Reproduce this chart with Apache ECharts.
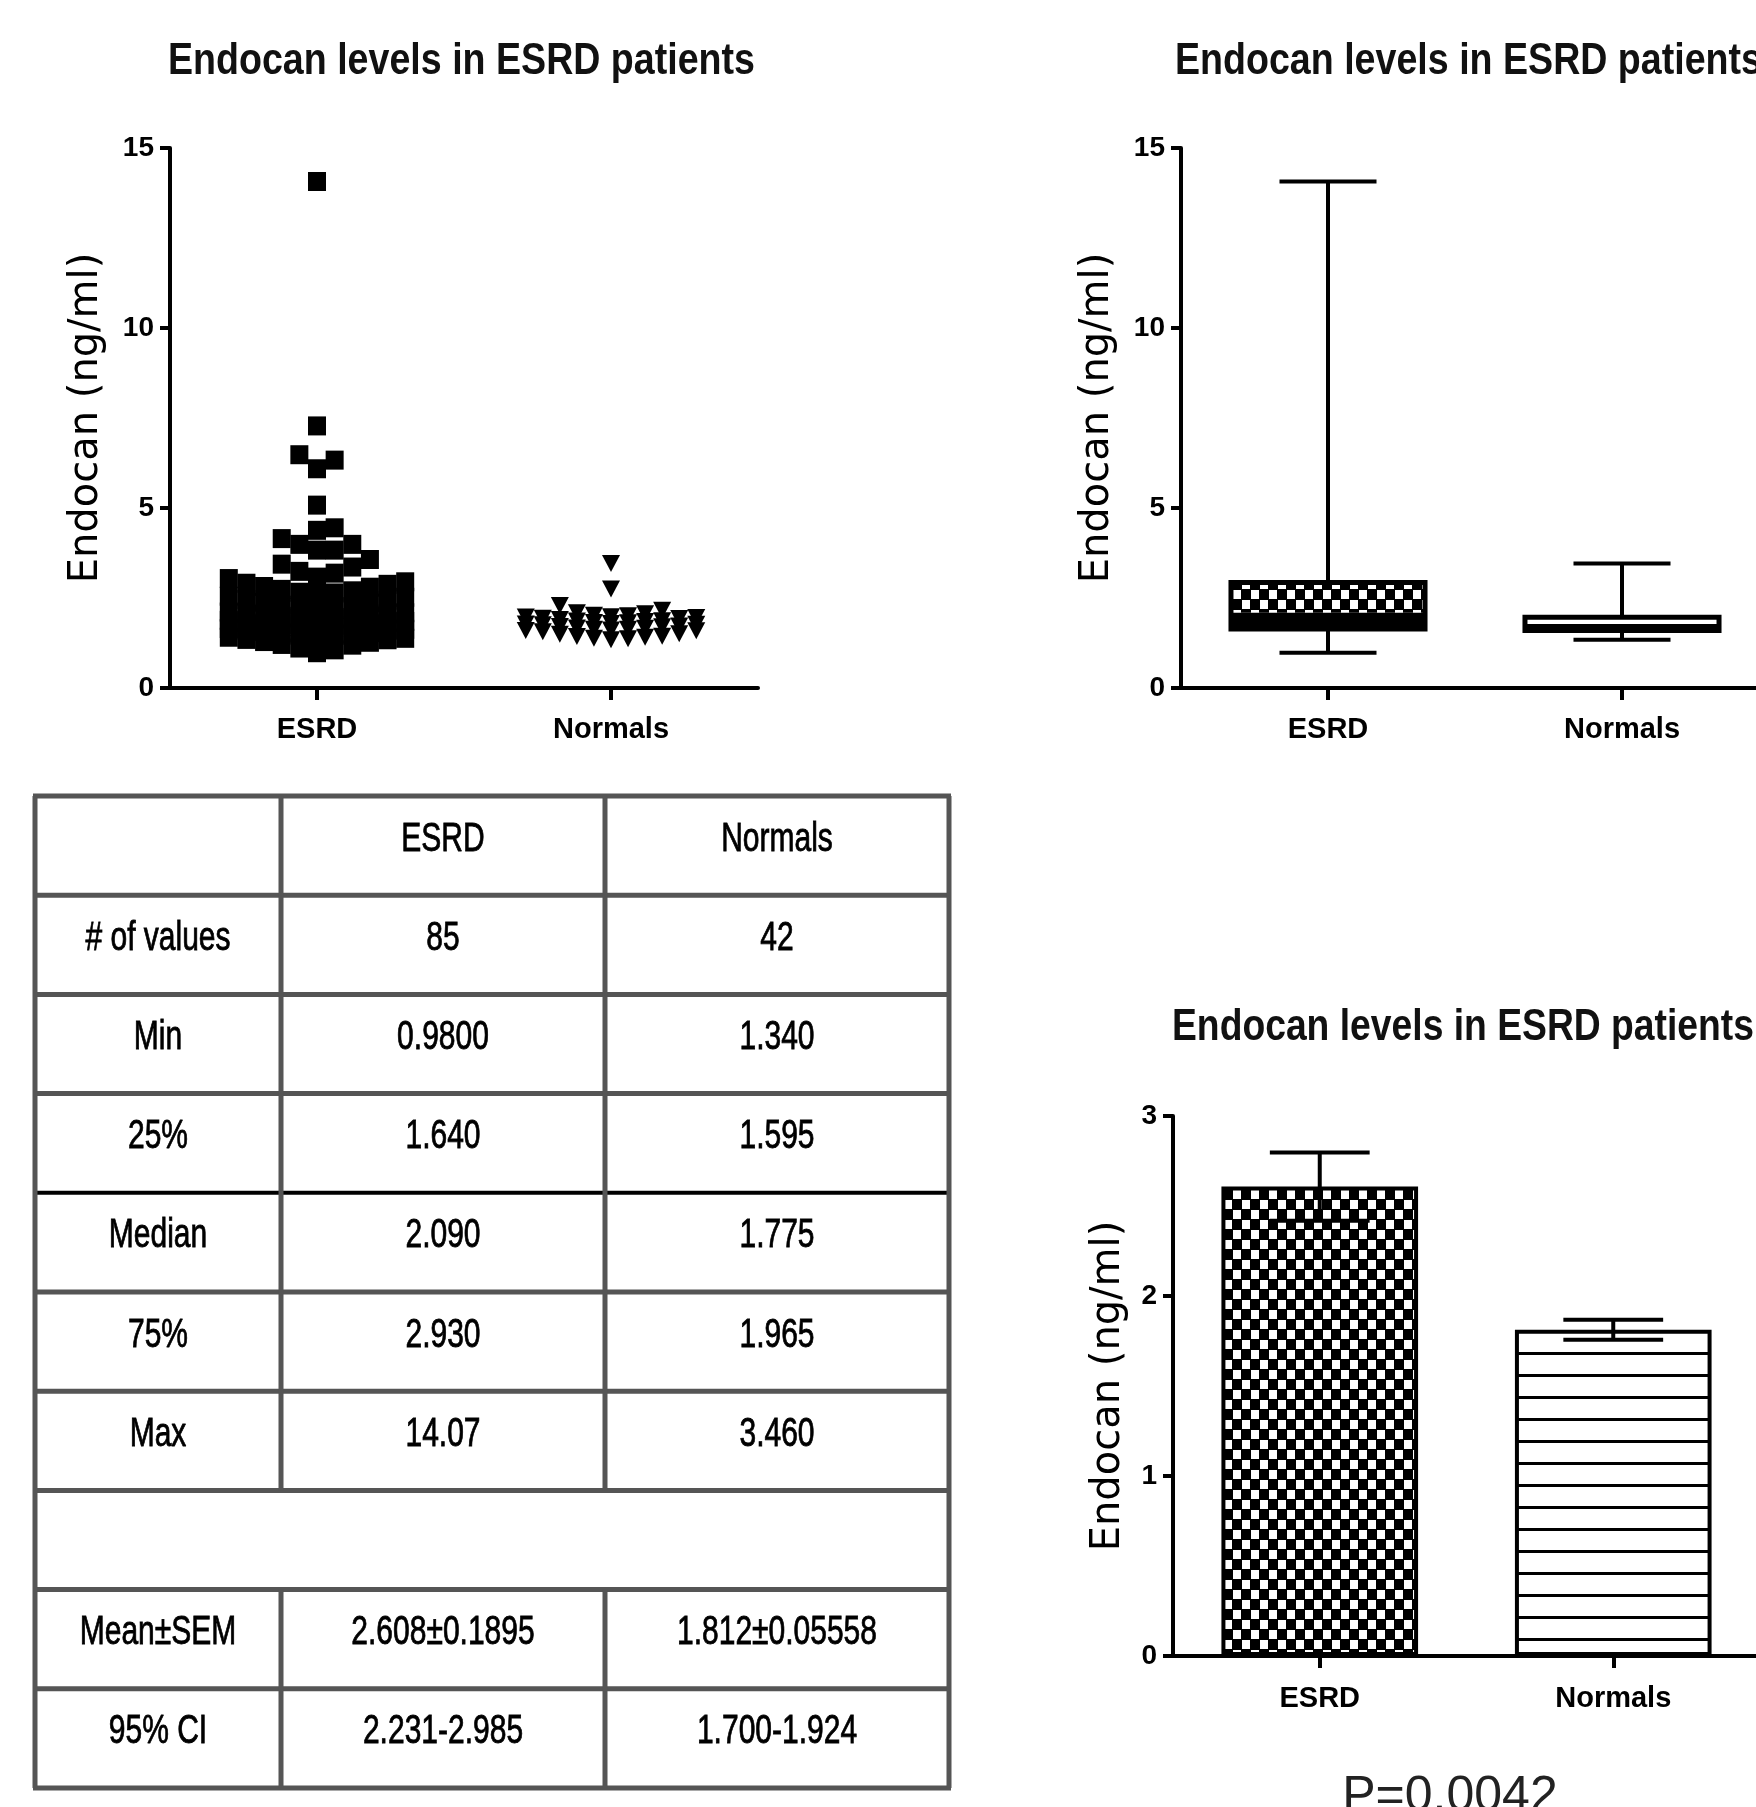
<!DOCTYPE html>
<html>
<head>
<meta charset="utf-8">
<script src="https://cdn.jsdelivr.net/npm/echarts@6/dist/echarts.min.js"></script>
<style>
html,body{margin:0;padding:0;background:#fff;}
#c{width:1756px;height:1807px;}
</style>
</head>
<body>
<div id="c"></div>
<script>
// ---------------- DATA ----------------
const categories = ['ESRD', 'Normals'];
const titleText = 'Endocan levels in ESRD patients';
const yAxisName = 'Endocan (ng/ml)';
const pValueText = 'P=0.0042';

// individual values (85 ESRD, 42 Normals)
const esrdValues = [
  0.98, 1.06, 1.11, 1.19, 1.21, 1.27, 1.29, 1.34, 1.35, 1.38, 1.41, 1.42, 1.46, 1.47, 1.50, 1.53, 1.54, 1.57, 1.60, 1.61, 1.63,
  1.65, 1.66, 1.70, 1.71, 1.74, 1.76, 1.78, 1.78, 1.82, 1.84, 1.85, 1.88, 1.90, 1.91, 1.94, 1.96, 1.99, 2.00, 2.04, 2.06, 2.08,
  2.09,
  2.11, 2.16, 2.18, 2.24, 2.26, 2.30, 2.36, 2.38, 2.44, 2.46, 2.52, 2.55, 2.58, 2.64, 2.66, 2.70, 2.74, 2.80, 2.82, 2.88, 2.91,
  2.95, 3.04, 3.08, 3.19, 3.24, 3.36, 3.44, 3.57,
  3.83, 3.83, 3.99, 3.99, 4.15, 4.38, 4.45, 5.08, 6.09, 6.33, 6.48, 7.28, 14.07
];
const normalValues = [
  1.34, 1.37, 1.38, 1.41, 1.43, 1.44, 1.49, 1.51, 1.56, 1.59, 1.60, 1.61, 1.63, 1.63, 1.66, 1.67, 1.70, 1.71, 1.72, 1.76, 1.77,
  1.78, 1.79, 1.81, 1.82, 1.85, 1.86, 1.87, 1.90, 1.93, 1.94, 1.96, 1.97, 1.98, 2.01, 2.02, 2.06, 2.09, 2.16, 2.29, 2.75, 3.46
];

// box plot: [min, 25%, median, 75%, max]
const boxESRD = [0.98, 1.64, 2.09, 2.93, 14.07];
const boxNormals = [1.34, 1.595, 1.775, 1.965, 3.46];

// bar chart: mean and SEM
const barMeans = [2.608, 1.812];
const barSEM = [0.1895, 0.05558];

// axis ranges
const scatterAxis = { min: 0, max: 15, interval: 5 };
const barAxis = { min: 0, max: 3, interval: 1 };

// table
const tableHeader = ['', 'ESRD', 'Normals'];
const tableRowLabels = ['# of values', 'Min', '25%', 'Median', '75%', 'Max', '', 'Mean\u00b1SEM', '95% CI'];
const tableESRD = ['85', '0.9800', '1.640', '2.090', '2.930', '14.07', '', '2.608\u00b10.1895', '2.231-2.985'];
const tableNormals = ['42', '1.340', '1.595', '1.775', '1.965', '3.460', '', '1.812\u00b10.05558', '1.700-1.924'];

// ---------------- HELPERS ----------------
function makeChecker() {
  const cv = document.createElement('canvas');
  cv.width = 18; cv.height = 20;
  const g = cv.getContext('2d');
  g.fillStyle = '#000'; g.fillRect(0, 0, 18, 20);
  g.fillStyle = '#fff';
  g.fillRect(0, 0, 8, 9);
  g.fillRect(9, 10, 8, 9);
  return cv;
}
function makeHLines() {
  const cv = document.createElement('canvas');
  cv.width = 4; cv.height = 22;
  const g = cv.getContext('2d');
  g.fillStyle = '#fff'; g.fillRect(0, 0, 4, 22);
  g.fillStyle = '#000'; g.fillRect(0, 10, 4, 3);
  return cv;
}
const checker = { image: makeChecker(), repeat: 'repeat' };
const hlines = { image: makeHLines(), repeat: 'repeat' };

// column-scatter layout computed from the values: points avoid overlapping
// within a limited column width; when the column is full they overlap.
function columnScatter(values, center, thr, step, maxSlot) {
  const sorted = values.slice().sort((a, b) => a - b);
  const placed = [];
  const slots = [0];
  for (let k = 1; k <= maxSlot; k++) slots.push(k, -k);
  sorted.forEach(v => {
    let best = center, bestGap = -1;
    for (const s of slots) {
      const x = center + s * step;
      let gap = Infinity;
      placed.forEach(p => { if (Math.abs(p[0] - x) < step * 0.5) gap = Math.min(gap, Math.abs(v - p[1])); });
      if (gap >= thr) { best = x; break; }
      if (gap > bestGap) { bestGap = gap; best = x; }
    }
    placed.push([best, v]);
  });
  return placed;
}
const esrdSwarm = columnScatter(esrdValues, 0, 0.5, 0.06, 5);
const normalSwarm = columnScatter(normalValues, 1, 0.45, 0.058, 5);

const mctx = document.createElement('canvas').getContext('2d');
function fitScale(text, font, target) {
  mctx.font = font;
  return target / mctx.measureText(text).width;
}

// ---------------- STYLES ----------------
const FONT = 'Liberation Sans';
const axisLine = { show: true, onZero: false, lineStyle: { color: '#000', width: 4 } };
const axisTickY = { show: true, length: 10, lineStyle: { color: '#000', width: 4 } };
const axisTickX = { show: true, length: 12, alignWithLabel: true, lineStyle: { color: '#000', width: 4 } };
const yLabel = { fontFamily: FONT, fontWeight: 'bold', fontSize: 28, color: '#000', margin: 16 };
const xLabel = { fontFamily: FONT, fontWeight: 'bold', fontSize: 29, color: '#000', margin: 22 };
const nameStyle = { fontFamily: 'DejaVu Sans', fontSize: 40, color: '#000' };

function catAxis(gridIndex, margin) {
  return {
    type: 'category', gridIndex, data: categories, boundaryGap: true,
    axisLine, axisTick: axisTickX, axisLabel: Object.assign({}, xLabel, { margin }),
    splitLine: { show: false }
  };
}
function valAxis(gridIndex, range, gap) {
  return {
    type: 'value', gridIndex, min: range.min, max: range.max, interval: range.interval,
    axisLine, axisTick: axisTickY, axisLabel: yLabel, splitLine: { show: false },
    name: yAxisName, nameLocation: 'middle', nameRotate: 90, nameGap: gap, nameTextStyle: nameStyle
  };
}

// ---------------- RENDERERS ----------------
function renderBox(params, api) {
  const c = api.value(0);
  const x = api.coord([c, 0])[0];
  const yMin = api.coord([c, api.value(1)])[1];
  const yQ1 = api.coord([c, api.value(2)])[1];
  const yMed = api.coord([c, api.value(3)])[1];
  const yQ3 = api.coord([c, api.value(4)])[1];
  const yMax = api.coord([c, api.value(5)])[1];
  const band = api.size([1, 0])[0];
  const bw = band * 0.66, cw = band * 0.33;
  const ls = { stroke: '#000', lineWidth: 4 };
  const upperFill = params.dataIndex === 0 ? checker : '#fff';
  return {
    type: 'group',
    children: [
      { type: 'line', shape: { x1: x, y1: yMax, x2: x, y2: yQ3 }, style: ls },
      { type: 'line', shape: { x1: x, y1: yQ1, x2: x, y2: yMin }, style: ls },
      { type: 'line', shape: { x1: x - cw / 2, y1: yMax, x2: x + cw / 2, y2: yMax }, style: ls },
      { type: 'line', shape: { x1: x - cw / 2, y1: yMin, x2: x + cw / 2, y2: yMin }, style: ls },
      { type: 'rect', shape: { x: x - bw / 2, y: yQ3, width: bw, height: yMed - yQ3 }, style: { fill: upperFill } },
      { type: 'rect', shape: { x: x - bw / 2, y: yMed, width: bw, height: yQ1 - yMed }, style: { fill: '#000' } },
      { type: 'rect', shape: { x: x - bw / 2, y: yQ3, width: bw, height: yQ1 - yQ3 }, style: { fill: 'none', stroke: '#000', lineWidth: 5 } }
    ]
  };
}
function renderErr(params, api) {
  const c = api.value(0), m = api.value(1), s = api.value(2);
  const pTop = api.coord([c, m + s]);
  const pBot = api.coord([c, m - s]);
  const band = api.size([1, 0])[0];
  const cw = band * 0.34;
  const ls = { stroke: '#000', lineWidth: 4 };
  return {
    type: 'group',
    children: [
      { type: 'line', shape: { x1: pTop[0], y1: pTop[1], x2: pBot[0], y2: pBot[1] }, style: ls },
      { type: 'line', shape: { x1: pTop[0] - cw / 2, y1: pTop[1], x2: pTop[0] + cw / 2, y2: pTop[1] }, style: ls },
      { type: 'line', shape: { x1: pBot[0] - cw / 2, y1: pBot[1], x2: pBot[0] + cw / 2, y2: pBot[1] }, style: ls }
    ]
  };
}

// ---------------- GRAPHIC (titles, table, p value) ----------------
const graphic = [];
const titleFont = 'bold 45px "' + FONT + '"';
function addTitle(x, y, target) {
  graphic.push({
    type: 'text', x, y, scaleX: fitScale(titleText, titleFont, target),
    style: { text: titleText, fontFamily: FONT, fontWeight: 'bold', fontSize: 45, fill: '#111',
      align: 'left', textAlign: 'left', verticalAlign: 'middle', textVerticalAlign: 'middle' }
  });
}
addTitle(168, 62, 587);
addTitle(1175, 62, 587);
addTitle(1172, 1028, 582);

graphic.push({
  type: 'text', x: 1450, y: 1797,
  style: { text: pValueText, fontFamily: FONT, fontSize: 50, fill: '#222',
    align: 'center', textAlign: 'center', verticalAlign: 'middle', textVerticalAlign: 'middle' }
});

// table
const colX = [35, 281, 605, 949];
const rowTop = 796, rowH = 99.2, nRows = 10;
const gridGray = '#555';
for (let k = 0; k <= nRows; k++) {
  const y = rowTop + k * rowH;
  graphic.push({ type: 'line', shape: { x1: colX[0] - 2, y1: y, x2: colX[3] + 2, y2: y },
    style: { stroke: k === 4 ? '#000' : gridGray, lineWidth: k === 4 ? 4 : 5 }, z: 10 });
}
[0, 3].forEach(ci => graphic.push({ type: 'line',
  shape: { x1: colX[ci], y1: rowTop, x2: colX[ci], y2: rowTop + nRows * rowH },
  style: { stroke: gridGray, lineWidth: 5 }, z: 10 }));
[1, 2].forEach(ci => {
  graphic.push({ type: 'line', shape: { x1: colX[ci], y1: rowTop, x2: colX[ci], y2: rowTop + 7 * rowH },
    style: { stroke: gridGray, lineWidth: 5 }, z: 10 });
  graphic.push({ type: 'line', shape: { x1: colX[ci], y1: rowTop + 8 * rowH, x2: colX[ci], y2: rowTop + nRows * rowH },
    style: { stroke: gridGray, lineWidth: 5 }, z: 10 });
});
const rows = [tableHeader].concat(tableRowLabels.map((l, i) => [l, tableESRD[i], tableNormals[i]]));
rows.forEach((r, ri) => {
  r.forEach((t, ci) => {
    if (!t) return;
    graphic.push({
      type: 'text', x: (colX[ci] + colX[ci + 1]) / 2, y: rowTop + ri * rowH + rowH / 2 - 6, scaleX: 0.75, z: 11,
      style: { text: t, fontFamily: FONT, fontSize: 40, fill: '#000', stroke: '#000', lineWidth: 0.8,
        align: 'center', textAlign: 'center', verticalAlign: 'middle', textVerticalAlign: 'middle' }
    });
  });
});

// ---------------- OPTION ----------------
const option = {
  animation: false,
  backgroundColor: '#fff',
  textStyle: { fontFamily: FONT },
  grid: [
    { left: 170, top: 148, width: 588, height: 540, outerBoundsMode: 'none', containLabel: false },
    { left: 1181, top: 148, width: 588, height: 540, outerBoundsMode: 'none', containLabel: false },
    { left: 1173, top: 1116, width: 587, height: 540, outerBoundsMode: 'none', containLabel: false }
  ],
  xAxis: [
    catAxis(0, 27),
    { type: 'value', gridIndex: 0, min: -0.5, max: 1.5, show: false },
    catAxis(1, 27),
    catAxis(2, 28)
  ],
  yAxis: [
    valAxis(0, scatterAxis, 63),
    valAxis(1, scatterAxis, 63),
    valAxis(2, barAxis, 44)
  ],
  series: [
    { type: 'scatter', xAxisIndex: 1, yAxisIndex: 0, data: esrdSwarm,
      symbol: 'rect', symbolSize: [18, 19], itemStyle: { color: '#000', opacity: 1 } },
    { type: 'scatter', xAxisIndex: 1, yAxisIndex: 0, data: normalSwarm,
      symbol: 'triangle', symbolRotate: 180, symbolSize: [18, 17], itemStyle: { color: '#000', opacity: 1 } },
    { type: 'custom', xAxisIndex: 2, yAxisIndex: 1,
      data: [[0].concat(boxESRD), [1].concat(boxNormals)],
      encode: { x: 0, y: [1, 2, 3, 4, 5] }, renderItem: renderBox, z: 5 },
    { type: 'bar', xAxisIndex: 3, yAxisIndex: 2, barWidth: '67%',
      data: barMeans.map((v, i) => ({ value: v, itemStyle: { color: i === 0 ? checker : hlines } })),
      itemStyle: { borderColor: '#000', borderWidth: 4 } },
    { type: 'custom', xAxisIndex: 3, yAxisIndex: 2,
      data: barMeans.map((v, i) => [i, v, barSEM[i]]),
      encode: { x: 0, y: 1 }, renderItem: renderErr, z: 10 }
  ],
  graphic: graphic
};

const chart = echarts.init(document.getElementById('c'), null, { renderer: 'canvas', width: 1756, height: 1807 });
chart.setOption(option);
</script>
</body>
</html>
